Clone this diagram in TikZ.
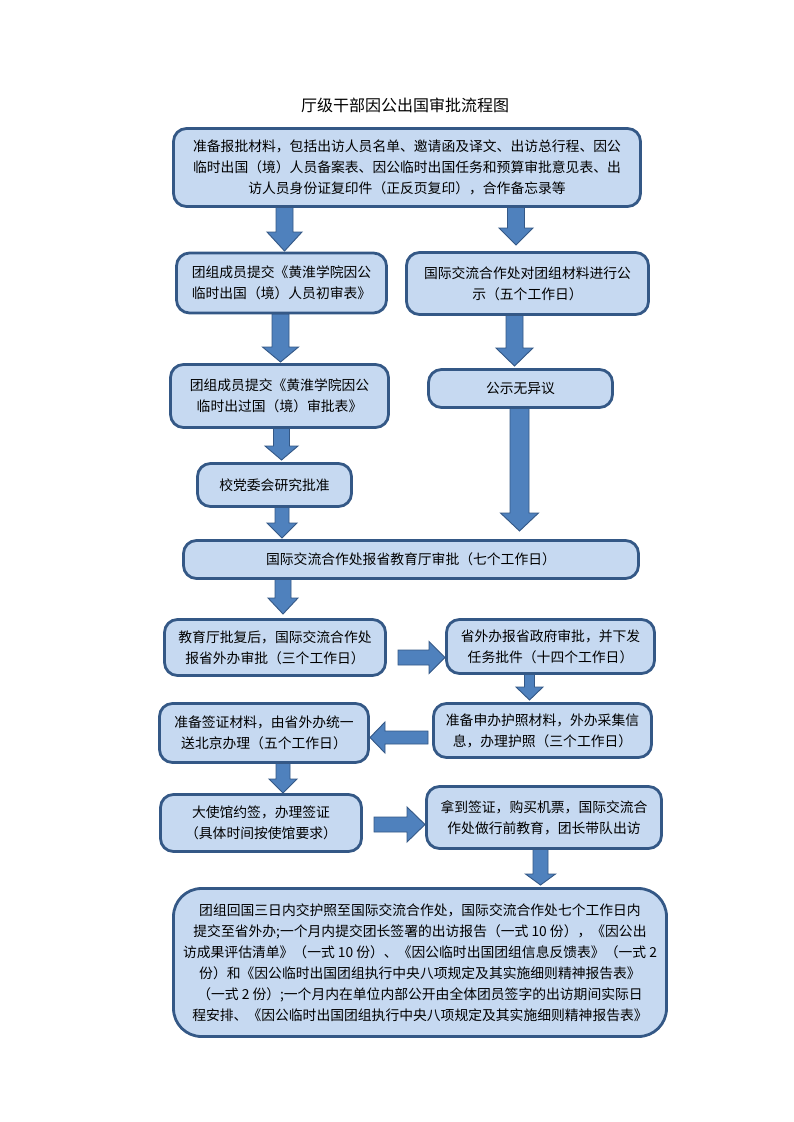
\documentclass[tikz,border=0pt]{standalone}
\usepackage{fontspec}
\newfontfamily\cjk{Noto Sans CJK SC}
\definecolor{boxfill}{RGB}{198,217,241}
\definecolor{boxline}{RGB}{52,88,134}
\definecolor{arrfill}{RGB}{79,129,189}
\newcommand\dnarrow[6]{% x, ytop, ytip, shaft half, head half, head start
  \draw[arr] ({#1-#4},#2) -- ({#1+#4},#2) -- ({#1+#4},#6) -- ({#1+#5},#6) -- (#1,#3) -- ({#1-#5},#6) -- ({#1-#4},#6) -- cycle;}
\newcommand\hzarrow[6]{% y, xstart, xtip, shaft half, head half, head start
  \draw[arr] (#2,{#1-#4}) -- (#2,{#1+#4}) -- (#6,{#1+#4}) -- (#6,{#1+#5}) -- (#3,#1) -- (#6,{#1-#5}) -- (#6,{#1-#4}) -- cycle;}
\begin{document}
\begin{tikzpicture}[x=1pt,y=-1pt,
  box/.style={draw=boxline, fill=boxfill, line width=2.8pt, rounded corners=13pt,
    inner sep=0pt, align=center, font=\cjk\fontsize{13.8}{21}\selectfont},
  arr/.style={draw=boxline, fill=arrfill, line width=0.9pt, line join=miter}]
\useasboundingbox (0,0) rectangle (793,1122);
\fill[white] (0,0) rectangle (793,1122);

\node[font=\cjk\fontsize{16}{20}\selectfont] (title) at (405,105) {厅级干部因公出国审批流程图};

% arrows (drawn below boxes)
\dnarrow{284.5}{206}{251}{8.5}{17.5}{232}
\dnarrow{516}{206}{245}{8.5}{17}{228}
\dnarrow{280.5}{314}{362}{8.5}{18}{347}
\dnarrow{514.5}{315}{366}{8.5}{18.5}{348}
\dnarrow{519.5}{407}{531}{9.5}{19}{513}
\dnarrow{281.5}{427}{460}{8}{16.5}{446}
\dnarrow{282}{506}{538}{7}{15}{523}
\dnarrow{283}{578}{614}{8}{15}{598}
\dnarrow{529.5}{673}{700}{5}{13.5}{687}
\dnarrow{283}{762}{793}{7}{14}{779}
\dnarrow{540.5}{848}{885}{7.5}{15}{874}
\hzarrow{657.5}{398}{445}{7.5}{16}{429}
\hzarrow{737.5}{428}{370}{6.5}{15.5}{385}
\hzarrow{824.5}{374}{425}{7.5}{17.5}{407}

% boxes
\node[box, minimum width=467pt, minimum height=78pt] (b1) at (407,167.5)
  {准备报批材料，包括出访人员名单、邀请函及译文、出访总行程、因公\\
   临时出国（境）人员备案表、因公临时出国任务和预算审批意见表、出\\
   访人员身份证复印件（正反页复印），合作备忘录等};
\node[box, minimum width=210pt, minimum height=60pt] (b2) at (281.5,283)
  {团组成员提交《黄淮学院因公\\临时出国（境）人员初审表》};
\node[box, minimum width=242pt, minimum height=62pt] (b3) at (527.5,283.5)
  {国际交流合作处对团组材料进行公\\示（五个工作日）};
\node[box, minimum width=218pt, minimum height=63pt] (b4) at (279.5,396)
  {团组成员提交《黄淮学院因公\\临时出过国（境）审批表》};
\node[box, minimum width=184pt, minimum height=38pt] (b5) at (520.5,388.5)
  {公示无异议};
\node[box, minimum width=154pt, minimum height=43pt] (b6) at (274.5,485)
  {校党委会研究批准};
\node[box, minimum width=455pt, minimum height=38pt] (b7) at (411,559.5)
  {国际交流合作处报省教育厅审批（七个工作日）};
\node[box, minimum width=221pt, minimum height=56pt] (b8) at (275,647.5)
  {教育厅批复后，国际交流合作处\\报省外办审批（三个工作日）};
\node[box, minimum width=208pt, minimum height=54pt] (b9) at (550.5,646.5)
  {省外办报省政府审批，并下发\\任务批件（十四个工作日）};
\node[box, minimum width=209pt, minimum height=59pt] (b10) at (264,733)
  {准备签证材料，由省外办统一\\送北京办理（五个工作日）};
\node[box, minimum width=218pt, minimum height=54pt] (b11) at (542.5,730.5)
  {准备申办护照材料，外办采集信\\息，办理护照（三个工作日）};
\node[box, minimum width=201pt, minimum height=57pt] (b12) at (261,823)
  {大使馆约签，办理签证\\（具体时间按使馆要求）};
\node[box, minimum width=235pt, minimum height=62pt] (b13) at (544,817.5)
  {拿到签证，购买机票，国际交流合\\作处做行前教育，团长带队出访};
\node[box, rounded corners=28pt, minimum width=493pt, minimum height=148pt] (b14) at (420,962.5)
  {团组回国三日内交护照至国际交流合作处，国际交流合作处七个工作日内\\
   提交至省外办;一个月内提交团长签署的出访报告（一式 10 份），《因公出\\
   访成果评估清单》（一式 10 份）、《因公临时出国团组信息反馈表》（一式 2\\
   份）和《因公临时出国团组执行中央八项规定及其实施细则精神报告表》\\
   （一式 2 份）;一个月内在单位内部公开由全体团员签字的出访期间实际日\\
   程安排、《因公临时出国团组执行中央八项规定及其实施细则精神报告表》};
\end{tikzpicture}
\end{document}
